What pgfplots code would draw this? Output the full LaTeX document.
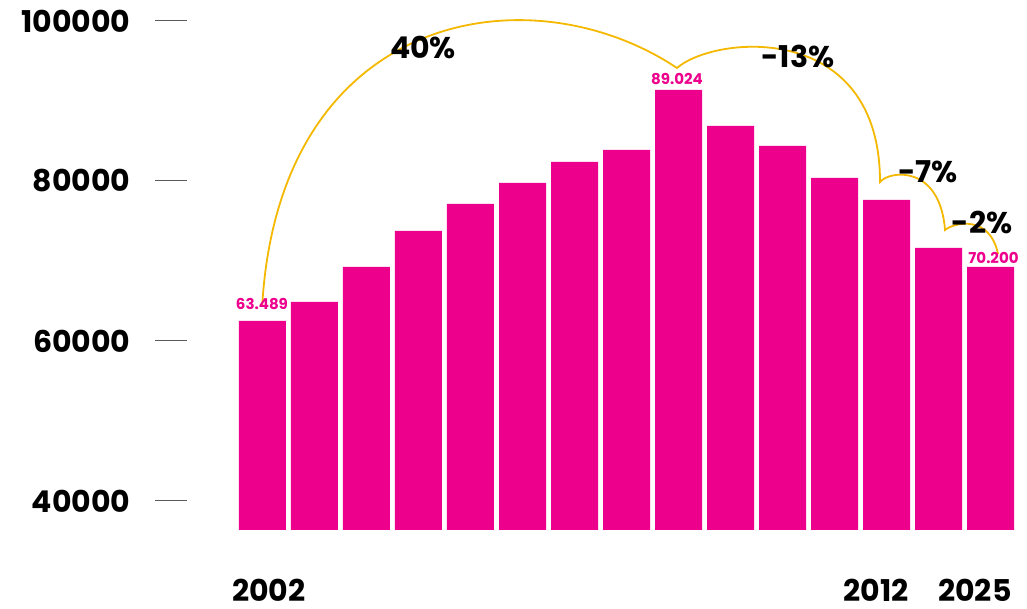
\documentclass[border=0pt]{standalone}
\usepackage{fontspec}
\setmainfont{Poppins}
\usepackage{pgfplots}
\pgfplotsset{compat=1.18}
\definecolor{barmag}{HTML}{EC008C}
\definecolor{arcgold}{HTML}{F5B800}
\newcommand{\bigfont}{\fontsize{30}{36}\selectfont\bfseries}
\newcommand{\smallfont}{\fontsize{15}{18}\selectfont\bfseries}
\begin{document}
\begin{tikzpicture}
\begin{axis}[
	name=ax,
	scale only axis,
	width=865pt,
	height=509pt,
	xmin=-1.067, xmax=15.567,
	ymin=36375, ymax=100000,
	enlargelimits=false,
	clip mode=individual,
	ybar,
	bar width=47pt,
	bar shift=0pt,
	axis line style={draw=none},
	scaled y ticks=false,
	ytick={40000,60000,80000,100000},
	yticklabels={40000,60000,80000,100000},
	ytick pos=left,
	tick align=inside,
	major tick length=32pt,
	ytick style={draw=black!65, line width=1pt},
	xtick style={draw=none},
	xtick={1.125,12.8,14.7},
	xticklabels={2002,2012,2025},
	yticklabel style={font=\bigfont, xshift=-21pt},
	xticklabel style={font=\bigfont, yshift=-46pt},
]
\addplot[fill=barmag, draw=none] coordinates {
	(1,62500) (2,64875) (3,69250) (4,73750) (5,77125)
	(6,79750) (7,82375) (8,83875) (9,91375) (10,86875)
	(11,84375) (12,80375) (13,77625) (14,71625) (15,69250)};

% arcs
\draw[arcgold, line width=1.8pt]
	(axis cs:0.995,64500) .. controls (axis cs:1.337,101375) and (axis cs:6.144,106375) .. (axis cs:8.971,94125)
	.. controls (axis cs:9.702,98250) and (axis cs:12.875,100125) .. (axis cs:12.875,79875)
	.. controls (axis cs:13.067,81375) and (axis cs:14.029,82000) .. (axis cs:14.125,73875)
	.. controls (axis cs:14.317,74875) and (axis cs:14.990,75750) .. (axis cs:15.144,70875);

\node[font=\bigfont] at (axis cs:4.087,96625) {40\%};
\node[font=\bigfont] at (axis cs:11.298,95625) {-13\%};
\node[font=\bigfont] at (axis cs:13.798,81125) {-7\%};
\node[font=\bigfont] at (axis cs:14.837,74875) {-2\%};

\node[font=\smallfont, text=barmag] at (axis cs:0.99,64625) {63.489};
\node[font=\smallfont, text=barmag] at (axis cs:8.971,92750) {89.024};
\node[font=\smallfont, text=barmag] at (axis cs:15.058,70375) {70.200};
\end{axis}
\pgfresetboundingbox
\path[use as bounding box] (ax.south west) ++(-155pt,-79pt) rectangle ++(1027pt,609pt);
\end{tikzpicture}
\end{document}
